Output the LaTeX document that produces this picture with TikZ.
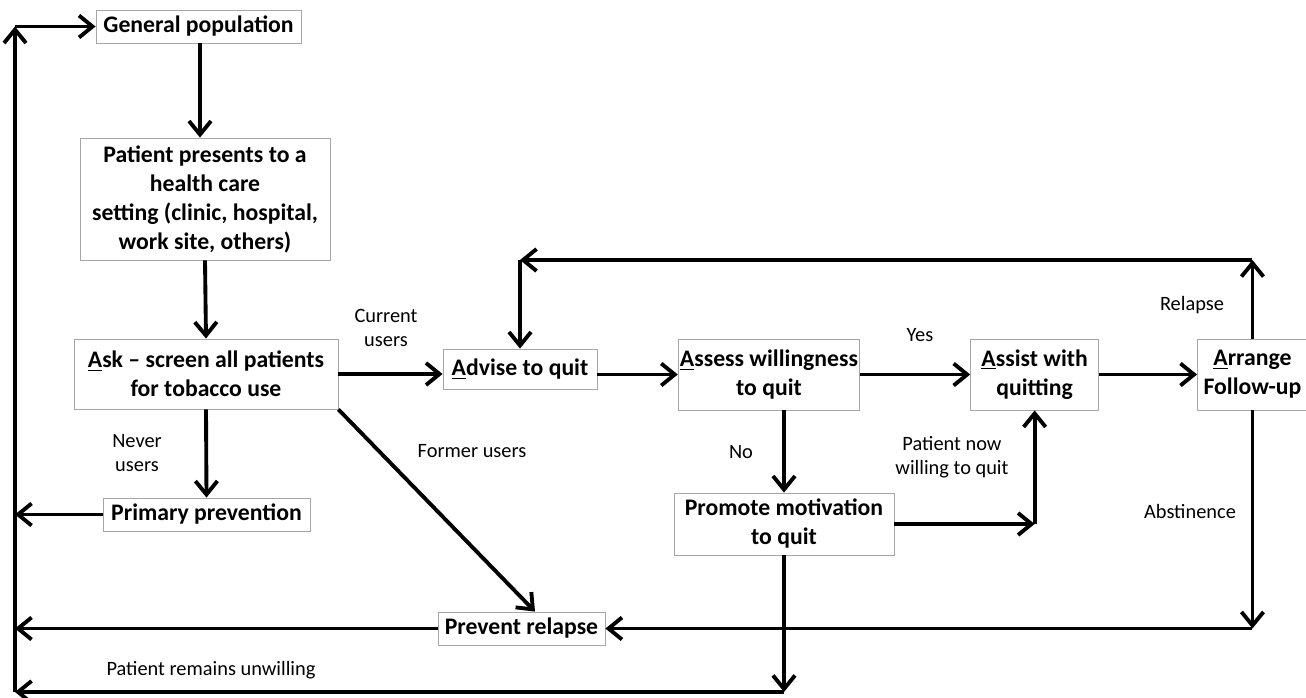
\documentclass[tikz,border=0pt]{standalone}
\usepackage{fontspec}
\setmainfont{Carlito}
\usetikzlibrary{positioning, arrows.meta, calc}

\begin{document}
\begin{tikzpicture}[
        x=0.02cm, y=-0.02cm,
        box/.style={draw=gray!70, line width=0.5pt, align=center, inner sep=1pt, font=\bfseries\fontsize{13.5}{16.5}\selectfont},
        lbl/.style={align=center, inner sep=0pt, font=\fontsize{11.6}{14}\selectfont},
        arrow/.style={-{Straight Barb[length=0.27cm, width=0.44cm]}, line width=2.2pt}
    ]
    \useasboundingbox (0,0) rectangle (1306,697);

    % Nodes
    \node [box, minimum width=4.1cm, minimum height=0.66cm] (gen) at (198.5,26.5) {General population};
    \node [box, minimum width=5cm, minimum height=2.44cm] (patient) at (205,199) {Patient presents to a\\health care\\setting (clinic, hospital,\\work site, others)};
    \node [box, minimum width=5.28cm, minimum height=1.4cm] (ask) at (206,374) {\underline{A}sk -- screen all patients\\for tobacco use};
    \node [box, minimum width=3.08cm, minimum height=0.8cm] (advise) at (520,369) {\underline{A}dvise to quit};
    \node [box, minimum width=3.48cm, minimum height=1.42cm] (assess) at (769,374.5) {\underline{A}ssess willingness\\to quit};
    \node [box, minimum width=2.56cm, minimum height=1.42cm] (assist) [right=2.2cm of assess] {\underline{A}ssist with\\quitting};
    \node [box, minimum width=2.2cm, minimum height=1.42cm] (arrange) [right=1.96cm of assist] {\underline{A}rrange\\Follow-up};
    \node [box, minimum width=4.14cm, minimum height=0.66cm] (primary) at (206.5,514.5) {Primary prevention};
    \node [box, minimum width=4.4cm, minimum height=1.24cm] (promote) at (784,524) {Promote motivation\\to quit};
    \node [box, minimum width=3.34cm, minimum height=0.66cm] (prevent) at (521.5,628.5) {Prevent relapse};

    % Corners
    \coordinate (topline) at (0,260);
    \coordinate (lb) at (15,692);
    \coordinate (lt) at (lb |- gen.west);
    \coordinate (rt) at (arrange.north |- topline);
    \coordinate (at) at (advise.north |- topline);
    \coordinate (rb) at (arrange.south |- prevent.east);
    \coordinate (mb) at (promote.south |- lb);
    \coordinate (pw) at (assist.south |- promote.east);

    % Labels
    \node [lbl] (lcurrent) at (386,328) {Current\\users};
    \node [lbl] (lnever) at (137,453) {Never\\users};
    \node [lbl] (lformer) at (472,451) {Former users};
    \node [lbl] (lyes) at (920,335) {Yes};
    \node [lbl] (lno) at (741,452) {No};
    \node [lbl] (lrelapse) at (1192,305) {Relapse};
    \node [lbl] (labst) at (1190,511) {Abstinence};
    \node [lbl] (lwilling) at (952,457) {Patient now\\willing to quit};
    \node [lbl] (lunwilling) at (211,670) {Patient remains unwilling};

    % Arrows
    \draw[arrow] (gen.south -| 200,0) -- (patient.north -| 200,0);
    \draw[arrow] (patient.south) -- (ask.north);
    \draw[arrow] (ask.east) -- (ask.east -| advise.west);
    \draw[arrow] (advise.east |- assess.west) -- (assess.west);
    \draw[arrow] (assess.east) -- (assist.west);
    \draw[arrow] (assist.east) -- (arrange.west);
    \draw[arrow] (ask.south) -- (primary.north);
    \draw[arrow] (ask.south east) -- ([xshift=0.27cm]prevent.north);
    \draw[arrow] (assess.south -| promote.north) -- (promote.north);
    \draw[arrow] (promote.east) -- (pw);
    \draw[arrow] (pw) -- (assist.south);

    \draw[arrow] (arrange.north) -- (rt);
    \draw[arrow] (rt) -- (at);
    \draw[arrow] (at) -- (advise.north);
    \draw[arrow] (arrange.south) -- (rb);
    \draw[arrow] (rb) -- (prevent.east);

    \draw[arrow] (primary.west) -- (lb |- primary.west);
    \draw[arrow] (prevent.west) -- (lb |- prevent.west);
    \draw[arrow] (promote.south) -- (mb);
    \draw[arrow] (mb) -- (lb);
    \draw[arrow] (lb) -- (lt);
    \draw[arrow] (lt) -- (gen.west);

    \end{tikzpicture}
\end{document}
